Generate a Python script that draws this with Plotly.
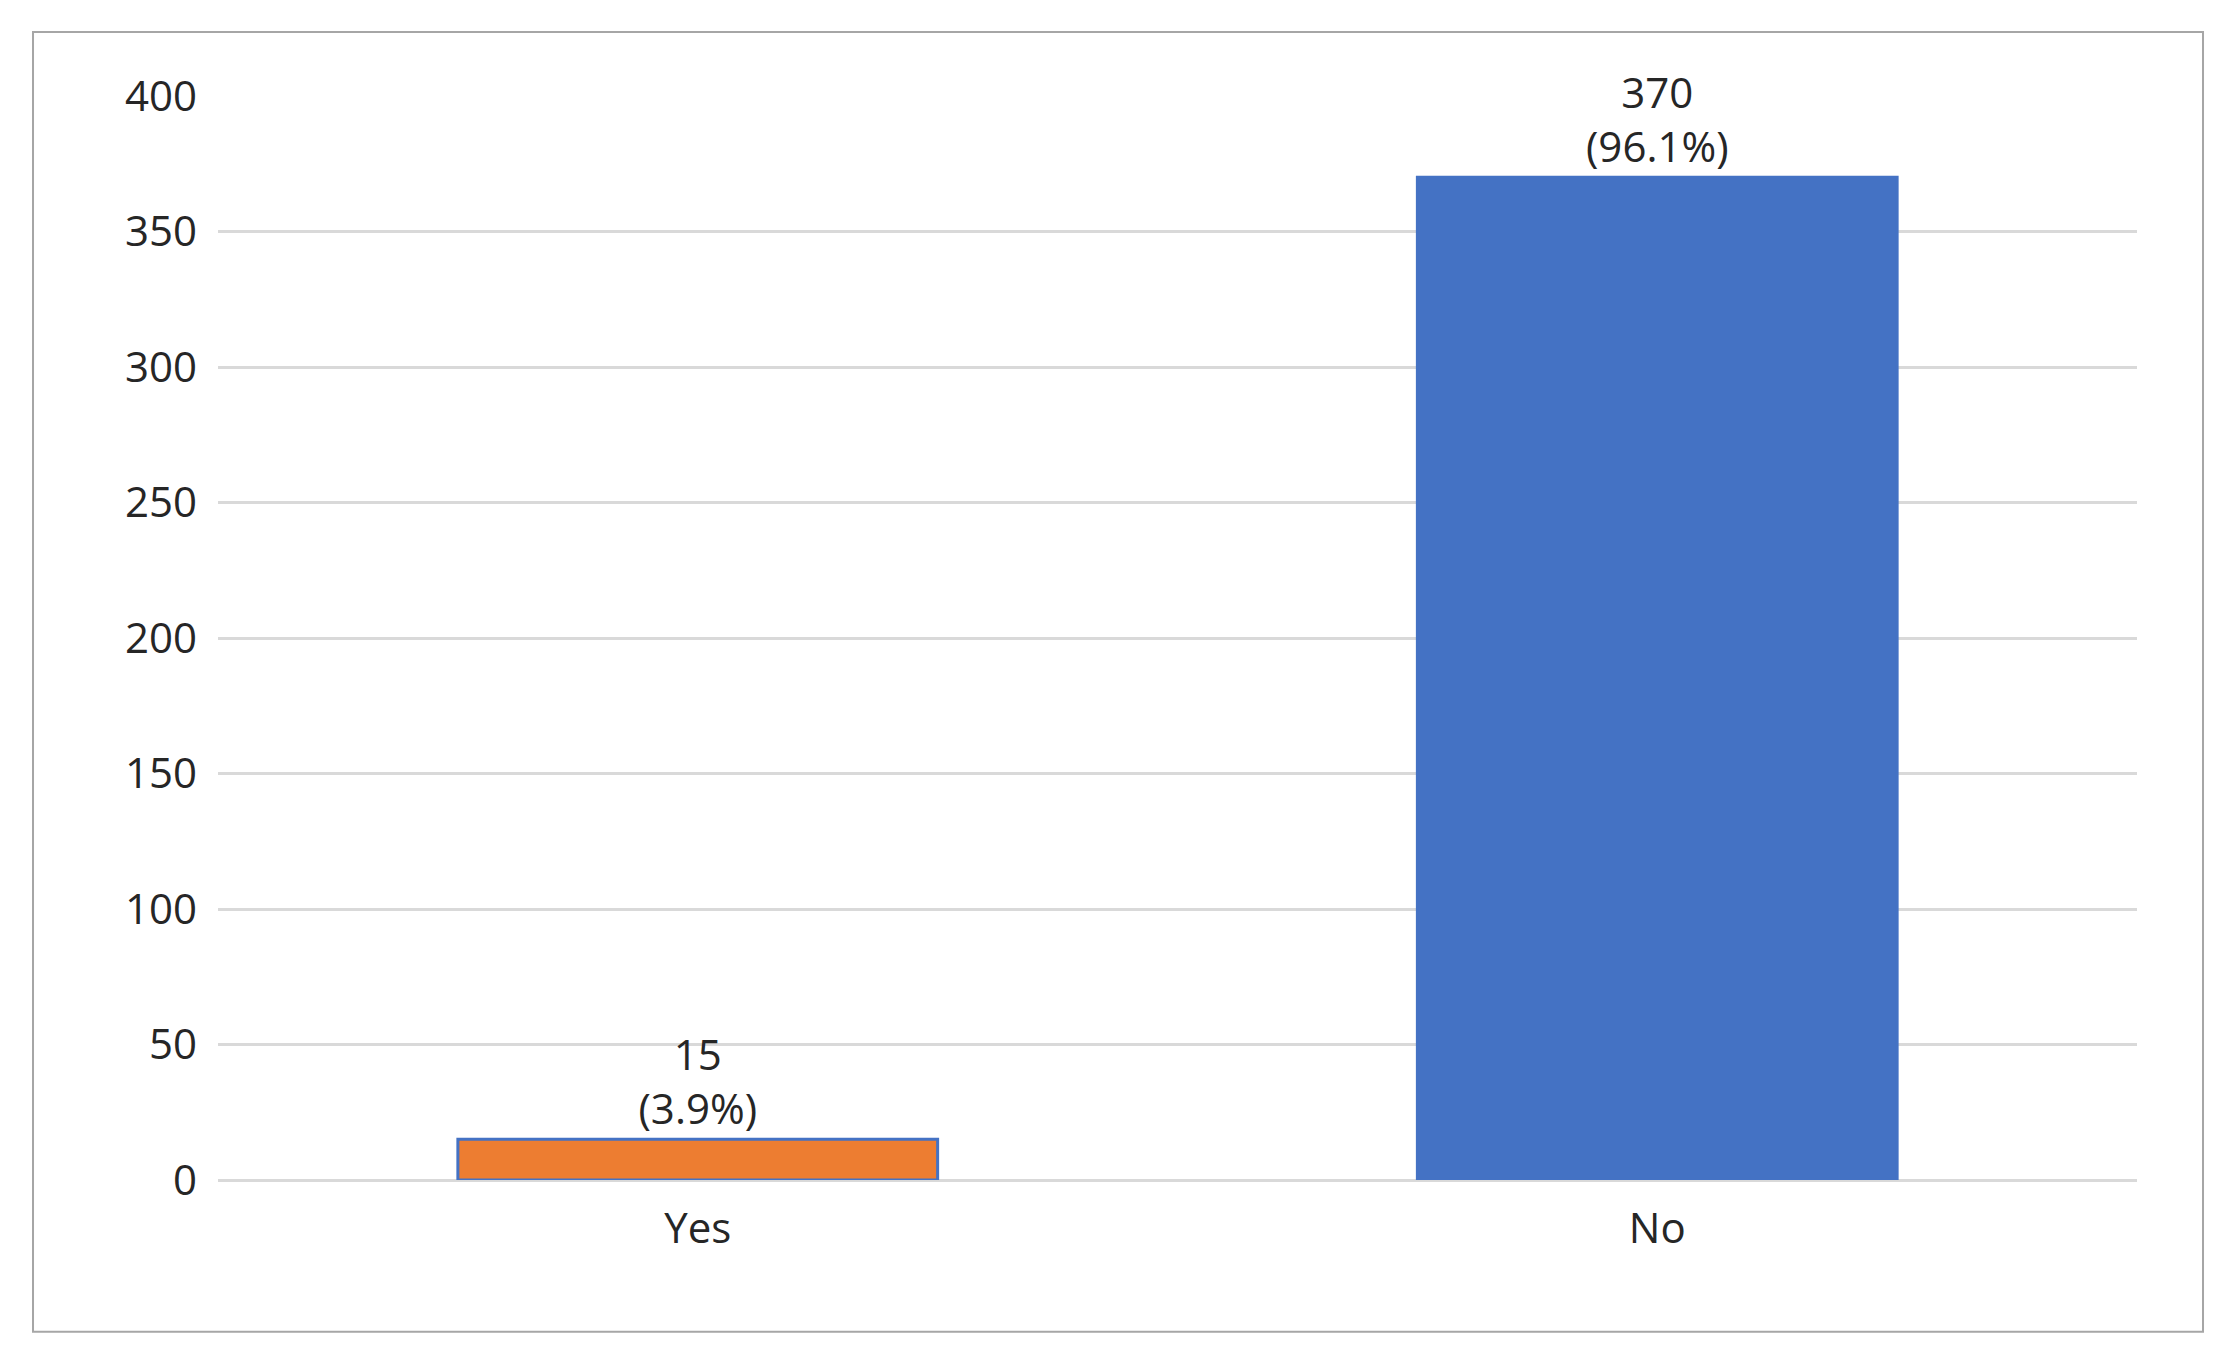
import plotly.graph_objects as go

categories = ["Yes", "No"]
counts = [15, 370]
percents = [3.9, 96.1]
colors = ["#ED7D31", "#4472C4"]

labels = [f"{c}<br>({p}%)" for c, p in zip(counts, percents)]

fig = go.Figure()
fig.add_trace(go.Bar(x=categories, y=counts, text=labels, textposition="outside",
                     marker=dict(color=colors, line=dict(color="#4472C4", width=3)),
                     width=0.5, cliponaxis=False,
                     textfont=dict(size=42, color="#262626")))

fig.update_layout(
    width=2221, height=1356, plot_bgcolor="white", paper_bgcolor="white",
    margin=dict(l=210, r=92, t=88, b=184), showlegend=False,
    font=dict(family="Open Sans", size=42, color="#262626"),
    yaxis=dict(range=[0, 400], dtick=50, gridcolor="#D9D9D9", gridwidth=3,
               zeroline=True, zerolinecolor="#D9D9D9", zerolinewidth=3,
               ticks="", ticklabelstandoff=20),
    xaxis=dict(showline=False, ticks="", ticklabelstandoff=20),
)
fig.add_shape(type="rect", xref="paper", yref="paper",
              x0=-0.0964, x1=1.0344, y0=-0.140, y1=1.059,
              line=dict(color="#A6A6A6", width=2))
fig.write_html("out.html")
